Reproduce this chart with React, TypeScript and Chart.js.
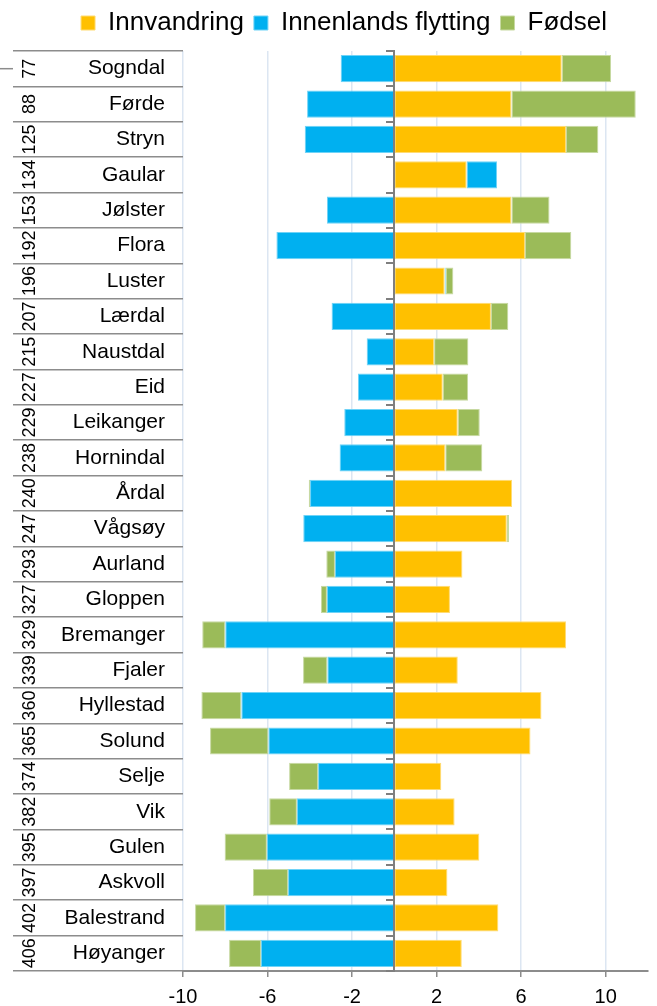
import { useEffect, useRef } from 'react';
import { Chart, registerables } from 'chart.js';

Chart.register(...registerables);

const municipalities = [
  'Sogndal', 'Førde', 'Stryn', 'Gaular', 'Jølster', 'Flora', 'Luster', 'Lærdal', 'Naustdal',
  'Eid', 'Leikanger', 'Hornindal', 'Årdal', 'Vågsøy', 'Aurland', 'Gloppen', 'Bremanger',
  'Fjaler', 'Hyllestad', 'Solund', 'Selje', 'Vik', 'Gulen', 'Askvoll', 'Balestrand', 'Høyanger',
];

const municipalityCodes = [
  '77', '88', '125', '134', '153', '192', '196', '207', '215', '227', '229', '238', '240',
  '247', '293', '327', '329', '339', '360', '365', '374', '382', '395', '397', '402', '406',
];

const innvandring = [
  7.92, 5.54, 8.12, 3.42, 5.54, 6.18, 2.38, 4.57, 1.88, 2.29, 3.0, 2.41, 5.57,
  5.32, 3.22, 2.63, 8.12, 3.0, 6.96, 6.44, 2.22, 2.85, 4.02, 2.51, 4.92, 3.19,
];

const innenlandsFlytting = [
  -2.54, -4.13, -4.24, 1.44, -3.19, -5.58, 0.05, -2.97, -1.31, -1.72, -2.37, -2.59, -3.99,
  -4.31, -2.81, -3.19, -8.0, -3.17, -7.24, -5.96, -3.61, -4.61, -6.03, -5.03, -8.01, -6.31,
];

const fodsel = [
  2.33, 5.88, 1.53, 0, 1.8, 2.19, 0.36, 0.82, 1.62, 1.2, 1.04, 1.75, -0.06,
  0.11, -0.41, -0.28, -1.09, -1.15, -1.89, -2.76, -1.37, -1.31, -2.0, -1.66, -1.42, -1.51,
];

const seriesNames = ['Innvandring', 'Innenlands flytting', 'Fødsel'];
const xTickValues = [-10, -6, -2, 2, 6, 10];
const xMin = -10;
const xMax = 12;

const FONT = "'Liberation Sans', Arial, Helvetica, sans-serif";
const SEP = '#8c8c8c';

const legendSpacing = {
  id: 'legendSpacing',
  beforeLayout(chart: any) {
    const legend = chart.legend;
    if (legend && !legend.__patched) {
      legend.__patched = true;
      const origFit = legend.fit;
      legend.fit = function () {
        origFit.call(this);
        this.height += 5;
      };
    }
  },
  afterLayout(chart: any) {
    const legend = chart.legend;
    if (legend) {
      legend.left += 20;
      legend.right += 20;
    }
  },
};

const outerTickMark = {
  id: 'outerTickMark',
  afterDraw(chart: any) {
    const y = chart.scales.y;
    const y2 = chart.scales.y2;
    if (!y || !y2) return;
    const py = y.getPixelForValue(0);
    const ctx = chart.ctx;
    ctx.save();
    ctx.strokeStyle = SEP;
    ctx.lineWidth = 1.5;
    ctx.beginPath();
    ctx.moveTo(y2.left, py);
    ctx.lineTo(y2.right - 44, py);
    ctx.stroke();
    ctx.restore();
  },
};

export default function App() {
  const canvasRef = useRef<HTMLCanvasElement | null>(null);

  useEffect(() => {
    document.body.style.margin = '0';
    const canvas = canvasRef.current;
    if (!canvas) return;
    const chart = new Chart(canvas, {
      type: 'bar',
      data: {
        labels: municipalities,
        datasets: [
          {
            label: seriesNames[0],
            data: innvandring,
            backgroundColor: '#FFC000',
            borderColor: '#ffdb73',
            borderWidth: 1,
            borderSkipped: false,
          },
          {
            label: seriesNames[1],
            data: innenlandsFlytting,
            backgroundColor: '#00B0F0',
            borderColor: '#6fd3f7',
            borderWidth: 1,
            borderSkipped: false,
          },
          {
            label: seriesNames[2],
            data: fodsel,
            backgroundColor: '#9BBB59',
            borderColor: '#c7d9a2',
            borderWidth: 1,
            borderSkipped: false,
          },
        ],
      },
      options: {
        indexAxis: 'y',
        animation: false,
        responsive: true,
        maintainAspectRatio: false,
        categoryPercentage: 0.77,
        barPercentage: 1,
        layout: { padding: { left: 0, right: 9, top: 0, bottom: 0 } },
        plugins: {
          legend: {
            position: 'top',
            labels: {
              boxWidth: 14,
              boxHeight: 14,
              padding: 10,
              color: '#000',
              font: { family: FONT, size: 26 },
            },
          },
          tooltip: { enabled: false },
        },
        scales: {
          x: {
            type: 'linear',
            stacked: true,
            min: xMin,
            max: xMax,
            afterBuildTicks: (scale: any) => {
              scale.ticks = xTickValues.map((v) => ({ value: v }));
            },
            grid: { color: '#dce6f2', lineWidth: 1.5, tickColor: SEP, tickLength: 6 },
            border: { color: SEP, width: 2 },
            ticks: { color: '#000', font: { family: FONT, size: 20 }, padding: 8 },
            afterFit: (scale: any) => {
              scale.height = 35;
            },
          },
          y: {
            type: 'category',
            stacked: true,
            position: 'left',
            weight: 0,
            offset: true,
            grid: { offset: true, drawOnChartArea: false, color: SEP, lineWidth: 1.5, tickLength: 126 },
            border: { display: false },
            ticks: { autoSkip: false, color: '#000', font: { family: FONT, size: 21 }, padding: -108 },
            afterFit: (scale: any) => {
              scale.width = 126;
            },
          },
          y2: {
            type: 'category',
            labels: municipalityCodes,
            position: 'left',
            weight: 1,
            offset: true,
            grid: { offset: true, drawOnChartArea: false, color: SEP, lineWidth: 1.5, tickLength: 44 },
            border: { display: false },
            ticks: {
              autoSkip: false,
              minRotation: 90,
              maxRotation: 90,
              crossAlign: 'center',
              padding: -32,
              color: '#000',
              font: { family: FONT, size: 18 },
            },
            afterFit: (scale: any) => {
              scale.width = 57;
            },
          },
          y3: {
            type: 'category',
            axis: 'y',
            position: { x: 0 },
            offset: true,
            grid: { offset: true, drawOnChartArea: false, color: '#7f7f7f', lineWidth: 2, tickLength: 7, z: 1 },
            border: { color: '#7f7f7f', width: 2, z: 1 },
            ticks: { display: false, autoSkip: false },
          },
        } as any,
      },
      plugins: [legendSpacing, outerTickMark],
    } as any);
    return () => {
      chart.destroy();
    };
  }, []);

  return (
    <div style={{ width: 657, height: 1006, position: 'relative' }}>
      <canvas ref={canvasRef} />
    </div>
  );
}
